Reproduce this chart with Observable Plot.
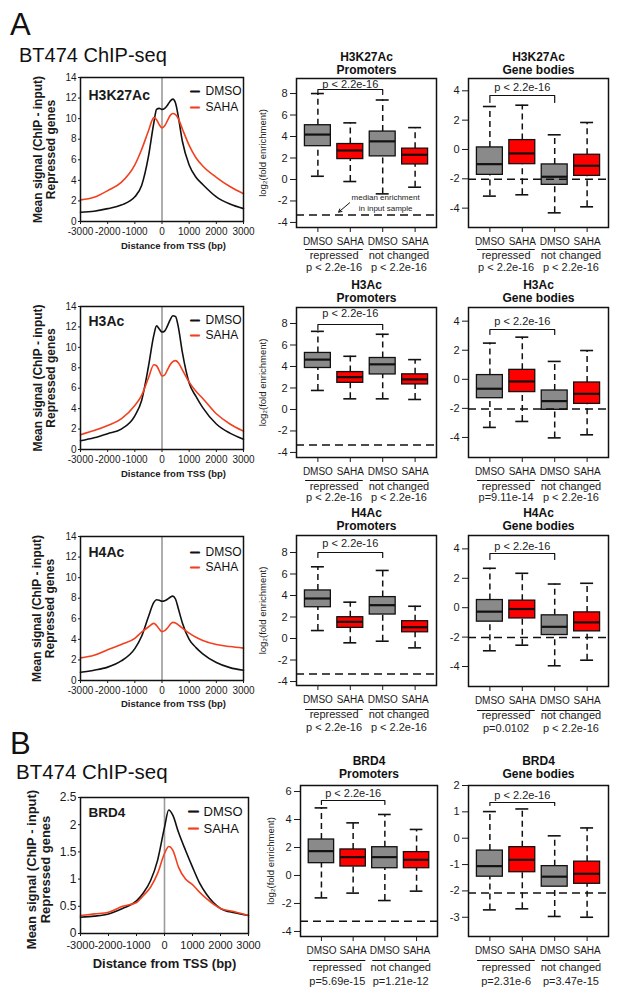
<!DOCTYPE html>
<html><head><meta charset="utf-8">
<script src="https://cdn.jsdelivr.net/npm/d3@7"></script>
<script src="https://cdn.jsdelivr.net/npm/@observablehq/plot@0.6"></script>
<style>
body{margin:0;background:#fff;font-family:"Liberation Sans",Arial,Helvetica,sans-serif;}
#wrap{position:relative;width:618px;height:995px;overflow:hidden;background:#fff;}
.panel{position:absolute;}
.panel svg{max-width:none !important;overflow:visible;}
.lbl{position:absolute;line-height:1;color:#111;white-space:nowrap;}
</style></head><body><div id="wrap"></div>
<script>
// ---------------- data ----------------
const conds = ["DMSO", "SAHA"];
const tssTicks = [-3000, -2000, -1000, 0, 1000, 2000, 3000];
const tss = [-3000,-2500,-2000,-1500,-1000,-750,-500,-300,-200,-100,0,100,200,300,400,500,600,750,1000,1250,1500,2000,2500,3000];
const h3k27acDMSO = [0.9,1.0,1.25,1.6,2.4,3.5,6.3,9.6,10.9,11.0,10.9,11.0,11.3,11.7,11.9,11.5,10.2,7.8,5.5,4.3,3.6,2.4,1.7,1.25];
const h3k27acSAHA = [2.1,2.35,3.0,3.8,5.5,7.0,8.8,10.1,9.9,9.4,9.1,9.3,9.8,10.3,10.5,10.4,10.0,9.0,7.4,6.2,5.4,4.3,3.4,2.7];
const h3acDMSO = [0.85,1.15,1.55,2.0,3.3,4.8,8.1,11.2,12.1,11.8,11.5,11.6,12.1,12.7,13.1,13.0,12.0,9.5,6.5,5.2,4.1,2.5,1.6,1.0];
const h3acSAHA = [1.45,1.85,2.35,3.0,4.3,5.3,7.0,8.3,8.2,7.7,7.2,7.3,7.8,8.3,8.6,8.7,8.5,7.8,6.6,5.7,5.0,3.5,2.5,1.8];
const h4acDMSO = [0.8,1.0,1.3,1.9,3.1,4.3,6.2,7.6,7.85,7.8,7.7,7.75,7.9,8.1,8.2,7.9,7.0,5.6,4.0,3.2,2.6,1.75,1.25,1.0];
const h4acSAHA = [2.2,2.45,3.0,3.5,4.1,4.7,5.2,5.55,5.35,5.0,4.75,4.85,5.1,5.45,5.65,5.6,5.4,5.1,4.6,4.2,3.9,3.5,3.3,3.15];
const brd4Tss = [-3000,-2500,-2000,-1500,-1000,-750,-500,-250,0,150,300,500,750,1000,1250,1500,2000,2500,3000];
const brd4DMSO = [0.3,0.32,0.36,0.46,0.6,0.75,0.97,1.34,1.95,2.27,2.17,1.86,1.53,1.22,0.93,0.72,0.46,0.38,0.33];
const brd4SAHA = [0.33,0.36,0.39,0.5,0.57,0.7,0.85,1.1,1.47,1.6,1.53,1.22,1.0,0.9,0.76,0.64,0.46,0.4,0.33];
const histYTicks = [0,2,4,6,8,10,12,14];
const brd4YTicks = [0,0.5,1,1.5,2,2.5];

const boxLabels = ["DMSO", "SAHA", "DMSO", "SAHA"];
const groupLabels = ["repressed", "not changed"];
const bracketLabel = "p < 2.2e-16";
// each box: [low whisker, Q1, median, Q3, high whisker]
const h3k27acProm = [[0.3,3.1,4.18,5.05,8.0],[-0.19,1.9,2.7,3.3,5.27],[-1.34,2.15,3.55,4.46,7.4],[-0.72,1.4,2.3,2.87,4.83]];
const h3k27acBody = [[-3.18,-1.73,-1.0,0.14,2.93],[-3.09,-1.0,-0.27,0.64,3.02],[-4.32,-2.41,-1.86,-1.02,1.0],[-3.91,-1.8,-1.11,-0.36,1.84]];
const h3acProm = [[1.77,3.86,4.64,5.26,7.27],[0.99,2.48,3.01,3.48,4.95],[0.99,3.26,4.2,4.79,7.0],[0.93,2.33,2.8,3.27,4.64]];
const h3acBody = [[-3.31,-1.3,-0.65,0.29,2.49],[-2.9,-0.88,-0.15,0.65,2.9],[-4.03,-2.1,-1.5,-0.77,1.23],[-3.82,-1.69,-1.0,-0.22,1.98]];
const h4acProm = [[0.74,2.91,3.72,4.47,6.67],[-0.4,0.99,1.55,1.98,3.38],[-0.25,2.23,3.1,3.85,6.33],[-0.87,0.58,1.05,1.61,3.0]];
const h4acBody = [[-2.93,-0.95,-0.27,0.52,2.68],[-2.55,-0.73,-0.09,0.48,2.34],[-3.95,-1.86,-1.3,-0.52,1.61],[-3.57,-1.61,-1.0,-0.32,1.66]];
const brd4Prom = [[-1.6,0.88,1.74,2.57,4.83],[-1.26,0.64,1.31,1.86,3.76],[-1.79,0.52,1.31,2.02,4.36],[-1.12,0.52,1.12,1.67,3.29]];
const brd4Body = [[-2.72,-1.46,-1.06,-0.47,1.01],[-2.68,-1.29,-0.82,-0.34,1.11],[-2.97,-1.84,-1.46,-1.06,0.09],[-3.0,-1.73,-1.35,-0.89,0.39]];
const promYTicks = [-4,-2,0,2,4,6,8];
const bodyYTicks = [-4,-2,0,2,4];
const brd4PromYTicks = [-4,-2,0,2,4,6];
const brd4BodyYTicks = [-3,-2,-1,0,1,2];
const inputMedianProm = [-3.3, -3.3, -3.29, -3.27];
const inputMedianBody = [-2.03, -2.05, -2.03, -2.08];
const h3k27acPromP = ["p < 2.2e-16", "p < 2.2e-16"];
const h3k27acBodyP = ["p < 2.2e-16", "p < 2.2e-16"];
const h3acPromP = ["p < 2.2e-16", "p < 2.2e-16"];
const h3acBodyP = ["p=9.11e-14", "p < 2.2e-16"];
const h4acPromP = ["p < 2.2e-16", "p < 2.2e-16"];
const h4acBodyP = ["p=0.0102", "p < 2.2e-16"];
const brd4PromP = ["p=5.69e-15", "p=1.21e-12"];
const brd4BodyP = ["p=2.31e-6", "p=3.47e-15"];
const noteLines = ["median enrichment", "in input sample"];

// ---------------- styling ----------------
const FONT = '"Liberation Sans", Arial, Helvetica, sans-serif';
const lineColors = ["#111111", "#f2401e"];
const boxFills = ["#8a8a8a", "#ff0000"];
const wrap = document.getElementById("wrap");

function place(svg, left, top, width, height) {
  const d = document.createElement("div");
  d.className = "panel";
  d.style.left = left + "px"; d.style.top = top + "px";
  d.style.width = width + "px"; d.style.height = height + "px";
  d.appendChild(svg); wrap.appendChild(d);
}
function label(text, left, top, size, weight) {
  const d = document.createElement("div");
  d.className = "lbl"; d.textContent = text;
  d.style.left = left + "px"; d.style.top = top + "px";
  d.style.fontSize = size + "px"; d.style.fontWeight = weight || "normal";
  wrap.appendChild(d);
}
const T = {lineAnchor: "middle"};

function linePanel(c) {
  const [x0, y0, x1, y1] = c.frame;
  const ml = x0, mt = 20, mr = 12, mb = 45;
  const w = x1 - x0, h = y1 - y0;
  const s = c.sizes;
  const data = [];
  c.series.forEach((vals, j) => c.tss.forEach((t, i) => data.push({t, v: vals[i], cond: conds[j]})));
  const marks = [
    Plot.ruleX([0], {stroke: "#9a9a9a", strokeWidth: 1.6}),
    Plot.line(data, {x: "t", y: "v", z: "cond", stroke: "cond", curve: "monotone-x", strokeWidth: 1.6}),
    Plot.frame({stroke: "#111", strokeWidth: 1.5}),
    Plot.axisX({ticks: tssTicks, tickFormat: d => String(d), tickSize: 3, tickPadding: s.xpad, fontSize: s.xtick, label: null}),
    Plot.axisY({ticks: c.yTicks, tickFormat: d => String(d), tickSize: 2, tickPadding: 2, fontSize: s.ytick, label: null}),
    Plot.text([c.mark], {...T, text: d => d, frameAnchor: "top-left", textAnchor: "start", dx: 8, dy: c.markDy, fontWeight: "bold", fontSize: s.mark}),
    Plot.text([c.ylab], {...T, text: d => d, frameAnchor: "left", textAnchor: "middle", rotate: -90, dx: c.ylabDx, dy: c.ylabDy, fontWeight: "bold", fontSize: s.ylab, lineHeight: 1.1}),
    Plot.text([c.xlab], {...T, text: d => d, frameAnchor: "bottom", dx: c.xlabDx, dy: c.xlabDy, fontWeight: "bold", fontSize: s.xlab})
  ];
  conds.forEach((cond, i) => {
    marks.push(Plot.text(["—"], {...T, text: d => d, frameAnchor: "top-right", textAnchor: "start", dx: c.legX[0], dy: c.legDy[i], fill: lineColors[i], stroke: lineColors[i], strokeWidth: 0.9, fontSize: s.dash, fontWeight: "bold"}));
    marks.push(Plot.text([cond], {...T, text: d => d, frameAnchor: "top-right", textAnchor: "start", dx: c.legX[1], dy: c.legDy[i], fontSize: s.legend, fill: "#111"}));
  });
  const svg = Plot.plot({
    width: w + ml + mr, height: h + mt + mb,
    marginLeft: ml, marginRight: mr, marginTop: mt, marginBottom: mb,
    style: {fontFamily: FONT, fontSize: "10px", color: "#1a1a1a", background: "transparent", overflow: "visible"},
    x: {domain: [tssTicks[0], tssTicks[tssTicks.length - 1]]},
    y: {domain: c.yDomain},
    color: {domain: conds, range: lineColors},
    marks
  });
  place(svg, x0 - ml, y0 - mt, w + ml + mr, h + mt + mb);
}

function boxPanel(c) {
  const [x0, y0, x1, y1] = c.frame;
  const ml = 50, mr = 6, mt = 34, mb = 56;
  const w = x1 - x0, h = y1 - y0;
  const k = (c.yDomain[1] - c.yDomain[0]) / h;
  const rows = c.stats.map((s, i) => ({pos: i + 1, cond: boxLabels[i], lo: s[0], q1: s[1], med: s[2], q3: s[3], hi: s[4]}));
  const groups = groupLabels.map((g, j) => ({pos: 2 * j + 1.5, label: g, p: c.pvals[j]}));
  const [bText, bBar, bLeg] = c.bracket;
  const top = c.yDomain[1];
  const br = [{x: 1, y: top - bLeg * k}, {x: 1, y: top - bBar * k}, {x: 3, y: top - bBar * k}, {x: 3, y: top - bLeg * k}];
  const [uDy, gDy, pDy] = c.bottom;
  const marks = [
    Plot.frame({stroke: "#111", strokeWidth: 1.5}),
    Plot.ruleX(rows, {x: "pos", y1: "lo", y2: "q1", strokeDasharray: "6,4", strokeWidth: 1.5, stroke: "#111"}),
    Plot.ruleX(rows, {x: "pos", y1: "q3", y2: "hi", strokeDasharray: "6,4", strokeWidth: 1.5, stroke: "#111"}),
    Plot.ruleY(rows, {y: "lo", x1: d => d.pos - 0.2, x2: d => d.pos + 0.2, strokeWidth: 1.6, stroke: "#111"}),
    Plot.ruleY(rows, {y: "hi", x1: d => d.pos - 0.2, x2: d => d.pos + 0.2, strokeWidth: 1.6, stroke: "#111"}),
    ...conds.map((cond, i) => Plot.rect(rows.filter(d => d.cond === cond), {x1: d => d.pos - 0.4, x2: d => d.pos + 0.4, y1: "q1", y2: "q3", fill: boxFills[i], stroke: "#111", strokeWidth: 1.3})),
    Plot.ruleY(rows, {y: "med", x1: d => d.pos - 0.4, x2: d => d.pos + 0.4, strokeWidth: 2.2, stroke: "#111"}),
    Plot.ruleY([c.inputMedian], {strokeDasharray: "8,5", strokeWidth: 1.5, stroke: "#111"}),
    Plot.line(br, {x: "x", y: "y", strokeWidth: 1.2, stroke: "#111"}),
    Plot.text([bracketLabel], {...T, text: d => d, x: () => 2, frameAnchor: "top", dy: bText, fontSize: 11, fill: "#222"}),
    Plot.axisY({ticks: c.yTicks, tickFormat: d => String(d), tickSize: 6, tickPadding: 3, fontSize: 11, label: null}),
    Plot.axisX({ticks: [1, 2, 3, 4], tickFormat: d => boxLabels[d - 1], tickSize: 5, tickPadding: 5, fontSize: 10, label: null}),
    Plot.ruleY(groups, {y: () => c.yDomain[0], x1: d => d.pos - 0.88, x2: d => d.pos + 0.9, dy: uDy, strokeWidth: 1.2, stroke: "#111"}),
    Plot.text(groups, {...T, x: "pos", text: "label", frameAnchor: "bottom", dy: gDy, fontSize: 11, fill: "#222"}),
    Plot.text(groups, {...T, x: "pos", text: "p", frameAnchor: "bottom", dy: pDy, fontSize: 11, fill: "#222"}),
    Plot.text([c.title], {...T, text: d => d, frameAnchor: "top", dy: c.titleDy[0], fontWeight: "bold", fontSize: 12, fill: "#111"}),
    Plot.text([c.subtitle], {...T, text: d => d, frameAnchor: "top", dy: c.titleDy[1], fontWeight: "bold", fontSize: 12, fill: "#111"})
  ];
  if (c.ylab) marks.push(Plot.text([c.ylab], {...T, text: d => d, frameAnchor: "left", textAnchor: "middle", rotate: -90, dx: c.ylabDx, fontSize: 9.5, fill: "#222"}));
  if (c.note) {
    marks.push(Plot.arrow([c.note], {x1: d => d.arrow[0], y1: d => d.arrow[1], x2: d => d.arrow[2], y2: d => d.arrow[3], strokeWidth: 1, headLength: 5, stroke: "#111"}));
    marks.push(Plot.text(c.note.lines.map((t, i) => ({t, y: c.note.textY[i]})), {...T, x: () => c.note.textX, y: "y", text: "t", fontSize: 8, fill: "#222"}));
  }
  const svg = Plot.plot({
    width: w + ml + mr, height: h + mt + mb,
    marginLeft: ml, marginRight: mr, marginTop: mt, marginBottom: mb,
    style: {fontFamily: FONT, fontSize: "10px", color: "#1a1a1a", background: "transparent", overflow: "visible"},
    x: {domain: [0.34, 4.66]},
    y: {domain: c.yDomain},
    marks
  });
  place(svg, x0 - ml, y0 - mt, w + ml + mr, h + mt + mb);
}

// ---------------- layout ----------------
label("A", 10, 9, 31);
label("BT474 ChIP-seq", 19, 45, 20);
label("B", 10, 728, 31);
label("BT474 ChIP-seq", 16, 762, 20.5);

const smallSizes = {xtick: 10, ytick: 10, xpad: 3, mark: 14, legend: 12, dash: 9, ylab: 12, xlab: 9.5};
const bigSizes = {xtick: 11, ytick: 12, xpad: 5, mark: 13.5, legend: 13, dash: 10, ylab: 13, xlab: 13};
const ylabText = "Mean signal (ChIP - input)\nRepressed genes";
const xlabText = "Distance from TSS (bp)";

linePanel({frame: [80, 77, 243, 221], tss, series: [h3k27acDMSO, h3k27acSAHA], yDomain: [0, 14], yTicks: histYTicks, mark: "H3K27Ac", markDy: 18, legX: [-53, -38], legDy: [14, 30], ylab: ylabText, ylabDx: -36.5, ylabDy: 0, xlab: xlabText, xlabDx: 11.5, xlabDy: 24, sizes: smallSizes});
linePanel({frame: [80, 306, 243, 449], tss, series: [h3acDMSO, h3acSAHA], yDomain: [0, 14], yTicks: histYTicks, mark: "H3Ac", markDy: 15, legX: [-53, -38], legDy: [14, 29], ylab: ylabText, ylabDx: -36, ylabDy: 0, xlab: xlabText, xlabDx: 11.5, xlabDy: 24, sizes: smallSizes});
linePanel({frame: [80, 536, 243, 680], tss, series: [h4acDMSO, h4acSAHA], yDomain: [0, 14], yTicks: histYTicks, mark: "H4Ac", markDy: 16.5, legX: [-53, -38], legDy: [15.5, 30.5], ylab: ylabText, ylabDx: -37, ylabDy: 0, xlab: xlabText, xlabDx: 11.5, xlabDy: 23, sizes: smallSizes});
linePanel({frame: [80, 797, 248, 933], tss: brd4Tss, series: [brd4DMSO, brd4SAHA], yDomain: [0, 2.5], yTicks: brd4YTicks, mark: "BRD4", markDy: 15, legX: [-60, -45], legDy: [14, 31], ylab: ylabText, ylabDx: -42, ylabDy: 4, xlab: xlabText, xlabDx: 0, xlabDy: 30, sizes: bigSizes});

boxPanel({frame: [296, 78, 436, 227], yDomain: [-4.47, 9.40], yTicks: promYTicks, stats: h3k27acProm, pvals: h3k27acPromP, inputMedian: inputMedianProm[0], bracket: [6, 11, 16], bottom: [22, 27.5, 40], title: "H3K27Ac", subtitle: "Promoters", titleDy: [-21.5, -8.5], ylab: "log₂(fold enrichment)", ylabDx: -34,
  note: {lines: noteLines, textX: 3.09, textY: [-1.7, -2.67], arrow: [1.98, -2.17, 1.64, -3.04]}});
boxPanel({frame: [468, 78, 608, 227], yDomain: [-5.32, 4.84], yTicks: bodyYTicks, stats: h3k27acBody, pvals: h3k27acBodyP, inputMedian: inputMedianBody[0], bracket: [9, 17, 24], bottom: [22, 27.5, 40], title: "H3K27Ac", subtitle: "Gene bodies", titleDy: [-21.5, -8.5]});
boxPanel({frame: [296, 307, 436, 457], yDomain: [-4.47, 9.49], yTicks: promYTicks, stats: h3acProm, pvals: h3acPromP, inputMedian: inputMedianProm[1], bracket: [6, 17, 22], bottom: [23, 28.5, 40], title: "H3Ac", subtitle: "Promoters", titleDy: [-22.5, -9.5], ylab: "log₂(fold enrichment)", ylabDx: -34});
boxPanel({frame: [468, 307, 608, 457], yDomain: [-5.38, 4.94], yTicks: bodyYTicks, stats: h3acBody, pvals: h3acBodyP, inputMedian: inputMedianBody[1], bracket: [14, 22, 27], bottom: [23, 28.5, 40], title: "H3Ac", subtitle: "Gene bodies", titleDy: [-22.5, -9.5]});
boxPanel({frame: [296, 535, 436, 685], yDomain: [-4.37, 9.58], yTicks: promYTicks, stats: h4acProm, pvals: h4acPromP, inputMedian: inputMedianProm[2], bracket: [8, 17, 22], bottom: [24, 29, 41.5], title: "H4Ac", subtitle: "Promoters", titleDy: [-22, -9], ylab: "log₂(fold enrichment)", ylabDx: -34});
boxPanel({frame: [468, 535, 608, 686], yDomain: [-5.36, 4.91], yTicks: bodyYTicks, stats: h4acBody, pvals: h4acBodyP, inputMedian: inputMedianBody[2], bracket: [11, 18, 24], bottom: [24, 29, 41.5], title: "H4Ac", subtitle: "Gene bodies", titleDy: [-22, -9]});
boxPanel({frame: [300, 785, 437, 936], yDomain: [-4.36, 6.43], yTicks: brd4PromYTicks, stats: brd4Prom, pvals: brd4PromP, inputMedian: inputMedianProm[3], bracket: [8, 15, 19], bottom: [24, 30.5, 44.5], title: "BRD4", subtitle: "Promoters", titleDy: [-24, -11], ylab: "log₂(fold enrichment)", ylabDx: -30});
boxPanel({frame: [468, 785, 608, 936], yDomain: [-3.73, 2.0], yTicks: brd4BodyYTicks, stats: brd4Body, pvals: brd4BodyP, inputMedian: inputMedianBody[3], bracket: [10, 17, 20], bottom: [24, 30.5, 44.5], title: "BRD4", subtitle: "Gene bodies", titleDy: [-24, -11]});
</script></body></html>
